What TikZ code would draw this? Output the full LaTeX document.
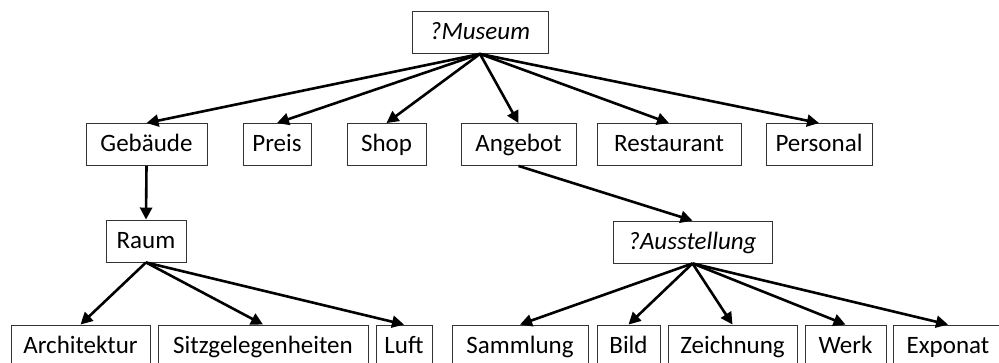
\documentclass[tikz,border=0pt]{standalone}
\usepackage{fontspec}
\setmainfont{Carlito}
\usetikzlibrary{arrows.meta}
\tikzset{
  box/.style={draw=black!80,line width=0.9pt,inner sep=0pt,minimum height=42pt,
    text height=19pt,text depth=4pt,font=\fontsize{25}{30}\selectfont},
  qbox/.style={box,font=\fontsize{25}{30}\selectfont\itshape},
  arr/.style={line width=2.6pt,-{Triangle[length=12pt,width=12pt]}}
}
\begin{document}
\begin{tikzpicture}[x=1pt,y=-1pt]
    \clip (0,0) rectangle (999,363);
    \fill[white] (0,0) rectangle (999,363);
    % top
    \node[qbox,minimum width=136pt] (museum) at (480,32.5) {?Museum};
    % second row
    \node[box,minimum width=121pt] (gebaeude) at (146.5,144.5) {Gebäude};
    \node[box,minimum width=68pt] (preis) at (277,144.5) {Preis};
    \node[box,minimum width=79pt] (shop) at (386.5,144.5) {Shop};
    \node[box,minimum width=115pt] (angebot) at (518.5,144.5) {Angebot};
    \node[box,minimum width=144pt] (restaurant) at (669,144.5) {Restaurant};
    \node[box,minimum width=106pt] (personal) at (819,144.5) {Personal};
    % third row
    \node[box,minimum width=80pt] (raum) at (146,241) {Raum};
    \node[qbox,minimum width=159pt] (ausstellung) at (692.5,242) {?Ausstellung};
    % bottom row
    \node[box,minimum width=139pt] (architektur) at (80.5,346) {Architektur};
    \node[box,minimum width=210pt] (sitz) at (263,346) {Sitzgelegenheiten};
    \node[box,minimum width=56pt] (luft) at (404,346) {Luft};
    \node[box,minimum width=136pt] (sammlung) at (520,346) {Sammlung};
    \node[box,minimum width=63pt] (bild) at (628.5,346) {Bild};
    \node[box,minimum width=129pt] (zeichnung) at (732.5,346) {Zeichnung};
    \node[box,minimum width=81pt] (werk) at (845.5,346) {Werk};
    \node[box,minimum width=110pt] (exponat) at (948,346) {Exponat};
    % connectors
    \foreach \n in {gebaeude,preis,shop,angebot,restaurant,personal}
        \draw[arr] (museum.south) -- (\n.north);
    \draw[arr] (gebaeude.south) -- (raum.north);
    \draw[arr] (angebot.south) -- (ausstellung.north);
    \foreach \n in {architektur,sitz,luft}
        \draw[arr] (raum.south) -- (\n.north);
    \foreach \n in {sammlung,bild,zeichnung,werk,exponat}
        \draw[arr] (ausstellung.south) -- (\n.north);
\end{tikzpicture}
\end{document}
